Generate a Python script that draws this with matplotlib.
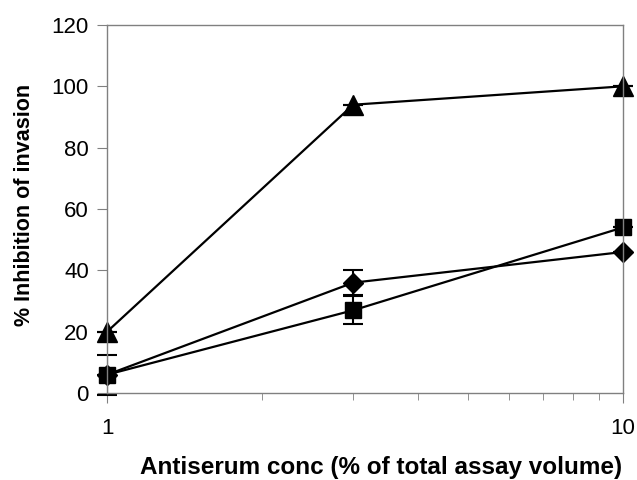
import matplotlib.pyplot as plt
from matplotlib.ticker import FixedLocator, NullFormatter

plt.rcParams['font.family'] = ['Liberation Sans', 'DejaVu Sans']

conc = [1, 3, 10]

triangle_vals = [20, 94, 100]
triangle_err = [0, 0, 0]

diamond_vals = [6, 36, 46]
diamond_err = [0, 4, 0]

square_vals = [6, 27, 54]
square_err = [6.5, 4.5, 0]

y_ticks = [0, 20, 40, 60, 80, 100, 120]

fig = plt.figure(figsize=(6.37, 4.8), dpi=100)
ax = fig.add_axes([0.168, 0.181, 0.810, 0.767])

ax.errorbar(conc, triangle_vals, yerr=triangle_err, color='black', lw=1.6,
            marker='^', ms=14, capsize=7, elinewidth=1.5, capthick=1.5)
ax.errorbar(conc, diamond_vals, yerr=diamond_err, color='black', lw=1.6,
            marker='D', ms=10, capsize=7, elinewidth=1.5, capthick=1.5)
ax.errorbar(conc, square_vals, yerr=square_err, color='black', lw=1.6,
            marker='s', ms=12, capsize=7, elinewidth=1.5, capthick=1.5)

ax.set_xscale('log')
ax.set_xlim(1, 10)
ax.set_ylim(0, 120)
ax.set_yticks(y_ticks)
ax.xaxis.set_major_locator(FixedLocator([1, 10]))
ax.set_xticklabels(['1', '10'])
ax.xaxis.set_minor_locator(FixedLocator([2, 3, 4, 5, 6, 7, 8, 9]))
ax.xaxis.set_minor_formatter(NullFormatter())

for side in ['left', 'bottom', 'top', 'right']:
    ax.spines[side].set_color('#808080')
    ax.spines[side].set_linewidth(1.0)
ax.tick_params(axis='both', which='both', direction='out', color='#808080', labelsize=16)
ax.tick_params(axis='y', length=7, pad=6)
ax.tick_params(axis='x', which='major', length=7, pad=11)
ax.tick_params(axis='x', which='minor', length=5)

ax.set_xlabel('Antiserum conc (% of total assay volume)', fontsize=17.5, fontweight='bold')
ax.xaxis.set_label_coords(0.532, -0.172)
ax.set_ylabel('% Inhibition of invasion', fontsize=15.5, fontweight='bold')
ax.yaxis.set_label_coords(-0.14, 0.51)

for m in ax.lines:
    m.set_clip_on(False)

fig.savefig('out.png', dpi=100)
